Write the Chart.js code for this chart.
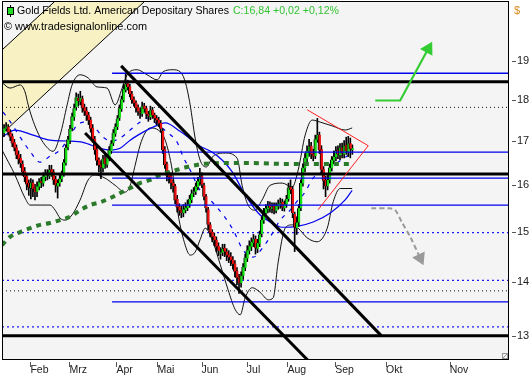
<!DOCTYPE html>
<html><head><meta charset="utf-8">
<script src="https://cdn.jsdelivr.net/npm/chart.js@4/dist/chart.umd.min.js"></script>
<style>html,body{margin:0;padding:0;background:#fff;overflow:hidden}#wrap{width:532px;height:380px;position:relative}</style>
</head><body>
<div id="wrap"><canvas id="c"></canvas></div>
<script>
// ---------- daily OHLC (bar index 0 = mid January) ----------
const opens=[17.20,17.30,17.35,17.22,17.12,16.98,16.86,16.70,16.62,16.48,
16.32,16.20,16.05,15.94,16.06,15.95,15.86,15.97,16.10,16.04,
16.18,16.27,16.20,16.36,16.30,16.14,15.98,16.04,16.14,16.26,
16.50,16.86,17.02,17.32,17.58,17.82,18.05,17.96,18.04,17.82,
17.74,17.64,17.52,17.32,17.06,16.82,16.58,16.46,16.38,16.62,
16.46,16.60,16.78,16.96,17.18,17.34,17.56,17.78,18.00,18.26,
18.42,18.34,18.16,18.02,17.94,17.82,17.70,17.66,17.86,17.80,
17.66,17.58,17.76,17.64,17.56,17.52,17.44,17.25,16.82,16.48,
16.25,16.20,16.06,15.98,15.70,15.54,15.47,15.40,15.46,15.50,
15.58,15.68,15.84,15.86,15.96,16.08,16.20,16.00,15.76,15.48,
15.16,15.00,14.92,14.84,14.72,14.56,14.58,14.68,14.60,14.54,
14.50,14.44,14.36,14.22,14.10,13.98,14.12,14.28,14.46,14.62,
14.70,14.78,14.86,14.66,14.76,14.96,15.24,15.40,15.48,15.58,
15.48,15.56,15.45,15.54,15.58,15.64,15.50,15.58,15.70,15.96,
15.92,15.38,15.08,15.20,15.50,16.04,16.38,16.60,16.76,16.90,
16.72,16.66,17.04,17.16,16.82,16.36,16.12,15.98,16.12,16.38,
16.56,16.64,16.80,16.68,16.86,16.70,16.92,16.76,16.96,16.80];
const highs=[17.40,17.45,17.40,17.28,17.18,17.05,16.92,16.78,16.70,16.55,
16.40,16.25,16.12,16.15,16.12,16.02,16.08,16.15,16.18,16.28,
16.35,16.35,16.45,16.45,16.35,16.20,16.12,16.22,16.32,16.58,
16.92,17.12,17.38,17.68,17.90,18.18,18.15,18.22,18.10,17.90,
17.82,17.70,17.58,17.40,17.12,16.90,16.62,16.55,16.68,16.70,
16.70,16.88,17.02,17.28,17.42,17.62,17.88,18.10,18.40,18.68,
18.50,18.40,18.22,18.08,17.98,17.88,17.80,17.95,17.92,17.85,
17.72,17.85,17.82,17.68,17.62,17.58,17.50,17.30,16.88,16.52,
16.30,16.28,16.12,16.02,15.78,15.60,15.55,15.58,15.62,15.68,
15.78,15.90,15.95,16.05,16.18,16.38,16.28,16.05,15.80,15.52,
15.20,15.05,14.98,14.90,14.78,14.68,14.75,14.75,14.66,14.62,
14.58,14.50,14.42,14.28,14.15,14.20,14.36,14.55,14.72,14.82,
14.88,14.95,14.92,14.85,15.02,15.32,15.50,15.58,15.65,15.64,
15.62,15.62,15.62,15.68,15.72,15.70,15.66,15.78,16.05,16.12,
15.98,15.42,15.32,15.58,16.12,16.48,16.72,16.90,17.05,16.98,
16.82,17.15,17.55,17.22,16.90,16.42,16.20,16.22,16.48,16.65,
16.78,16.88,16.90,16.95,16.96,17.02,17.10,17.12,17.08,16.92];
const lows=[17.12,17.25,17.15,17.02,16.88,16.78,16.60,16.48,16.40,16.22,
16.08,15.90,15.78,15.70,15.75,15.68,15.75,15.90,15.95,15.98,
16.10,16.12,16.15,16.20,16.02,15.85,15.72,15.98,16.08,16.20,
16.45,16.80,16.95,17.25,17.50,17.75,17.85,17.88,17.70,17.62,
17.50,17.40,17.22,16.98,16.70,16.45,16.30,16.15,16.30,16.38,
16.40,16.55,16.72,16.90,17.12,17.28,17.50,17.72,17.95,18.20,
18.25,18.08,17.92,17.85,17.70,17.62,17.55,17.60,17.70,17.55,
17.48,17.52,17.55,17.45,17.40,17.35,17.22,16.72,16.38,16.10,
16.05,15.92,15.85,15.60,15.42,15.35,15.30,15.32,15.40,15.45,
15.52,15.62,15.75,15.80,15.90,16.00,15.95,15.68,15.42,15.05,
14.90,14.80,14.72,14.60,14.52,14.45,14.52,14.50,14.42,14.38,
14.32,14.25,14.10,13.95,13.78,13.90,14.05,14.22,14.40,14.55,
14.62,14.70,14.55,14.58,14.70,14.90,15.18,15.35,15.40,15.42,
15.40,15.38,15.40,15.48,15.50,15.45,15.44,15.52,15.65,15.82,
15.30,14.60,14.95,15.12,15.45,15.98,16.30,16.52,16.65,16.60,
16.55,16.60,16.98,16.72,16.25,15.92,15.75,15.90,16.05,16.32,
16.48,16.55,16.60,16.58,16.62,16.62,16.70,16.65,16.62,16.70];
const closes=[17.31,17.35,17.22,17.10,16.95,16.85,16.68,16.58,16.50,16.30,
16.18,16.02,15.96,16.05,15.92,15.85,15.98,16.08,16.05,16.20,
16.26,16.22,16.34,16.28,16.12,16.00,16.05,16.15,16.25,16.52,
16.85,17.05,17.30,17.60,17.80,18.07,17.98,18.05,17.80,17.72,
17.62,17.50,17.30,17.05,16.80,16.55,16.45,16.40,16.60,16.48,
16.62,16.80,16.95,17.20,17.35,17.55,17.80,18.02,18.28,18.40,
18.32,18.15,18.00,17.92,17.80,17.72,17.68,17.85,17.78,17.65,
17.60,17.75,17.62,17.55,17.50,17.42,17.30,16.80,16.45,16.22,
16.18,16.05,15.98,15.67,15.52,15.45,15.40,15.48,15.52,15.58,
15.70,15.82,15.86,15.98,16.10,16.18,16.02,15.75,15.50,15.15,
14.98,14.90,14.83,14.70,14.62,14.58,14.66,14.60,14.52,14.48,
14.42,14.35,14.20,14.08,13.98,14.12,14.30,14.48,14.63,14.72,
14.80,14.85,14.68,14.78,14.95,15.25,15.42,15.50,15.56,15.50,
15.54,15.46,15.55,15.60,15.62,15.52,15.58,15.70,15.95,15.90,
15.40,15.10,15.20,15.50,16.05,16.40,16.62,16.78,16.88,16.70,
16.65,17.05,17.15,16.80,16.35,16.10,15.98,16.12,16.40,16.58,
16.65,16.78,16.70,16.85,16.72,16.90,16.78,16.95,16.82,16.84];

// ---------- axes ----------
const monthLabels=['Feb','Mrz','Apr','Mai','Jun','Jul','Aug','Sep','Okt','Nov'];
const monthPositions=[12.8,31.7,54.5,74.4,95.8,117.8,137.5,160.7,185.3,216.2];
const yTicks=[13,14,15,16,17,18,19];
const xMin=-1, xMax=245, yMin=12.57, yMax=20.64;

// ---------- indicators ----------
const bbUpperX=[-1,2.9,7.8,10.2,11.7,13.6,16.0,18.9,23.8,27.2,30.6,33.0,36.9,40.8,45.1,50.0,53.9,57.3,59.7,64.6,69.4,74.3,77.2,82.0,85.4,87.9,90.3,92.7,95.1,98.1,101.5,107.3,113.1,115.5,118.4,121.8,125.2,129.1,135.0,139.8,142.7,146.1,149.5,153.4,159.2,165.5,168.9];
const bbUpperY=[18.44,18.30,18.38,18.20,17.88,17.56,17.25,16.98,16.77,17.15,17.88,18.38,18.64,18.56,18.33,18.30,17.88,18.30,18.64,18.77,18.64,18.51,18.72,18.77,18.72,18.46,17.88,17.08,16.57,16.41,16.66,16.73,16.61,16.00,15.57,15.46,15.68,16.00,16.05,15.96,16.34,17.15,17.51,17.46,17.37,17.27,17.32];
const bbLowerX=[-1,5.3,10.2,12.6,17.5,22.3,24.8,27.2,29.6,33.0,36.9,40.8,44.2,49.0,53.9,58.7,61.2,63.6,66.0,68.4,70.9,74.8,78.2,81.6,84.5,87.9,90.3,92.7,95.1,97.6,101.0,104.9,108.7,112.1,114.6,117.0,120.4,124.3,128.2,130.6,133.0,136.4,139.8,142.7,147.1,151.9,156.8,159.7,163.1,168.9];
const bbLowerY=[16.80,16.23,15.72,15.57,15.57,15.57,15.46,15.29,15.25,15.36,15.68,16.12,16.23,16.16,16.00,15.85,16.00,16.45,16.91,17.20,17.32,17.27,17.03,16.34,15.36,14.73,14.53,14.59,14.84,15.08,14.84,14.34,13.85,13.48,13.38,13.70,13.89,13.80,13.66,13.70,14.39,15.08,15.15,15.08,14.88,14.80,15.08,15.64,15.93,15.93];
const ma20X=[-0.5,2.9,7.8,12.6,17.5,22.3,27.2,32.0,35.9,40.3,44.2,48.1,52.4,56.3,61.2,66.0,69.9,74.3,79.1,84.0,86.9,90.3,95.1,100.0,106.3,111.2,116.0,120.9,125.7,129.1,134.0,138.8,142.7,146.1,149.5,153.4,158.3,164.1,168.9];
const ma20Y=[17.70,17.48,17.10,16.77,16.52,16.66,16.80,17.13,17.41,17.46,17.32,17.10,17.01,17.08,17.27,17.46,17.56,17.41,17.22,16.98,16.64,16.34,15.89,15.68,15.36,15.04,14.63,14.49,14.69,14.90,15.25,15.46,15.68,15.85,16.14,16.28,16.39,16.59,16.73];
const ma50X=[-1,5.3,14.1,22.3,30.6,38.3,46.6,51.5,56.3,61.2,67.5,72.3,78.2,85.4,95.1,101.0,105.8,110.7,117.0,123.3,129.1,135.0,142.2,150.0,158.3,165.5,168.9];
const ma50Y=[17.10,17.27,17.15,17.03,17.01,16.98,16.84,16.80,16.84,17.03,17.22,17.34,17.44,17.24,16.89,16.75,16.57,16.30,15.79,15.40,15.21,15.10,15.12,15.21,15.40,15.68,15.89];
const ma200X=[-1,2.9,7.8,12.6,17.5,22.3,27.2,32.0,36.9,41.7,46.6,51.5,56.3,61.2,66.0,70.9,75.7,80.6,88.8,96.6,104.9,120.9,137.4,153.4,168.9];
const ma200Y=[14.73,14.90,15.00,15.08,15.15,15.19,15.25,15.32,15.46,15.57,15.63,15.72,15.83,15.94,16.05,16.12,16.23,16.30,16.41,16.48,16.50,16.50,16.48,16.48,16.48];

// ---------- drawing tools ----------
const blackLevels=[18.46,16.25,13.00];
const blueLevels=[18.68,16.75,16.16,15.57,13.62];
const blueLevelStart=52.4;
const dottedBlackLevels=[17.82,13.83];
const dottedBlueLevels=[14.99,14.03,13.16];
const channelUpperX=[56.8,183.0], channelUpperY=[18.87,13.00];
const channelLowerX=[39.3,147.3], channelLowerY=[17.20,12.57];
const triangleX=[147.1,176.7,152.4], triangleY=[17.76,16.90,15.47];
const greenArrowX=[180.1,192.2,205.8], greenArrowY=[17.99,17.99,19.32];
const grayArrowX=[178.2,186.9,189.8,193.2,197.1,201.9], grayArrowY=[15.50,15.50,15.46,15.19,14.90,14.47];
const yellowX=[-1,24.8,68.4,-1], yellowY=[19.29,20.64,20.64,17.18];

const titleText='Gold Fields Ltd. American Depositary Shares';
const quoteText='C:16,84 +0,02 +0,12%';
const copyText='\u00A9 www.tradesignalonline.com';

// ---------- build datasets ----------
const pts=(xs,ys)=>xs.map((x,i)=>({x:x,y:ys[i]}));
const line=(data,color,width,dash,order,extra)=>Object.assign({type:'line',data:data,borderColor:color,borderWidth:width,borderDash:dash||[],pointRadius:0,fill:false,order:order,tension:0},extra||{});
const datasets=[];

datasets.push(line(pts(yellowX,yellowY),'#000',1,[],20,{fill:'shape',backgroundColor:'#f7f1c4'}));
dottedBlackLevels.forEach(v=>datasets.push(line([{x:xMin,y:v},{x:xMax,y:v}],'#111',1,[1,3],12)));
dottedBlueLevels.forEach(v=>datasets.push(line([{x:xMin,y:v},{x:xMax,y:v}],'#1a1aff',1.3,[2,3],12)));
datasets.push(line(pts(bbUpperX,bbUpperY),'#111',1,[],10,{cubicInterpolationMode:'monotone'}));
datasets.push(line(pts(bbLowerX,bbLowerY),'#111',1,[],10,{cubicInterpolationMode:'monotone'}));
datasets.push(line(pts(ma20X,ma20Y),'#0000ee',1.2,[4,6],9,{cubicInterpolationMode:'monotone'}));
datasets.push(line(pts(ma50X,ma50Y),'#0000ee',1.2,[],9,{cubicInterpolationMode:'monotone'}));

datasets.push({type:'bar',data:closes.map((c,i)=>({x:i,y:[lows[i],highs[i]]})),backgroundColor:'#000',barThickness:1,grouped:false,order:6});
datasets.push({type:'bar',data:closes.map((c,i)=>({x:i,y:[opens[i],c]})),backgroundColor:closes.map((c,i)=>c>=opens[i]?'#14e014':'#ea1010'),borderColor:'#000',borderWidth:{left:1,right:0,top:0,bottom:0},borderSkipped:false,barThickness:3,grouped:false,order:5,minBarLength:1});

datasets.push(line(pts(ma200X,ma200Y),'#2b7a2b',4,[5,5],4,{cubicInterpolationMode:'monotone'}));
blueLevels.forEach(v=>datasets.push(line([{x:blueLevelStart,y:v},{x:xMax,y:v}],'#0000ee',1.3,[],3)));
blackLevels.forEach(v=>datasets.push(line([{x:xMin,y:v},{x:xMax,y:v}],'#000',3,[],2)));
datasets.push(line(pts(channelUpperX,channelUpperY),'#000',3,[],2));
datasets.push(line(pts(channelLowerX,channelLowerY),'#000',3,[],2));
datasets.push(line(pts(triangleX,triangleY),'#ff2020',1,[],1));
datasets.push(line(pts(greenArrowX,greenArrowY),'#33cc33',2.2,[],0,{pointRadius:[0,0,6],pointStyle:'triangle',pointRotation:29,pointBackgroundColor:'#33cc33',pointBorderColor:'#33cc33'}));
datasets.push(line(pts(grayArrowX,grayArrowY),'#9a9a9a',2,[5,3],0,{tension:0.3,pointRadius:[0,0,0,0,0,6],pointStyle:'triangle',pointRotation:155,pointBackgroundColor:'#9a9a9a',pointBorderColor:'#9a9a9a'}));

const deco={
  id:'deco',
  beforeDraw(chart){
    const {ctx,chartArea:a}=chart;
    ctx.save();
    ctx.fillStyle='#fff';ctx.fillRect(0,0,chart.width,chart.height);
    ctx.fillStyle='#f4f4f4';ctx.fillRect(a.left,a.top,a.right-a.left,a.bottom-a.top);
    ctx.restore();
  },
  afterDraw(chart){
    const {ctx,chartArea:a,scales}=chart;
    ctx.save();
    ctx.strokeStyle='#000';ctx.lineWidth=1;
    ctx.strokeRect(a.left+0.5,a.top+0.5,a.right-a.left-1,a.bottom-a.top-1);
    ctx.strokeStyle='#555';
    monthPositions.forEach(p=>{const px=Math.round(scales.x.getPixelForValue(p))+0.5;ctx.beginPath();ctx.moveTo(px,a.bottom+2);ctx.lineTo(px,a.bottom+7);ctx.stroke();});
    yTicks.forEach(v=>{const py=Math.round(scales.y.getPixelForValue(v))+0.5;ctx.beginPath();ctx.moveTo(a.right+3,py);ctx.lineTo(a.right+7,py);ctx.stroke();});
    // legend icon
    ctx.strokeStyle='#000';ctx.beginPath();ctx.moveTo(10.5,5);ctx.lineTo(10.5,17);ctx.stroke();
    ctx.fillStyle='#22dd22';ctx.fillRect(8,8,5,6);ctx.strokeRect(7.5,7.5,6,7);
    // title
    ctx.textBaseline='alphabetic';ctx.textAlign='left';
    ctx.font='10.6px "Liberation Sans"';ctx.fillStyle='#000';
    ctx.fillText(titleText,17,14);
    const w=ctx.measureText(titleText).width;
    ctx.fillStyle='#33c433';ctx.fillText(quoteText,17+w+4,14);
    ctx.font='10.9px "Liberation Sans"';ctx.fillStyle='#000';
    ctx.fillText(copyText,4,30);
    // currency
    ctx.font='11px "Liberation Sans"';ctx.fillStyle='#d98a1c';
    ctx.fillText('$',514,14);
    // resize grip
    ctx.strokeStyle='#999';ctx.strokeRect(502.5,353.5,5,5);
    ctx.beginPath();ctx.moveTo(503,358);ctx.lineTo(507,354);ctx.stroke();
    ctx.restore();
  }
};

Chart.defaults.font.family='"Liberation Sans", Arial, sans-serif';
new Chart(document.getElementById('c'),{
  type:'bar',
  data:{datasets:datasets},
  options:{
    responsive:true,maintainAspectRatio:false,animation:false,devicePixelRatio:1,
    layout:{autoPadding:false,padding:{left:2,top:1,right:0,bottom:0}},
    plugins:{legend:{display:false},tooltip:{enabled:false}},
    scales:{
      x:{type:'linear',min:xMin,max:xMax,offset:false,
        grid:{display:false,drawTicks:false,offset:false},border:{display:false},
        afterBuildTicks:s=>{s.ticks=monthPositions.map(v=>({value:v}));},
        afterFit:s=>{s.height=20;s.paddingLeft=0;s.paddingRight=0;},
        ticks:{autoSkip:false,maxRotation:0,minRotation:0,align:'start',padding:4,color:'#222',font:{size:10.5},callback:(v,i)=>monthLabels[i]}},
      y:{type:'logarithmic',position:'right',min:yMin,max:yMax,
        grid:{display:false,drawTicks:false},border:{display:false},
        afterBuildTicks:s=>{s.ticks=yTicks.map(v=>({value:v}));},
        afterFit:s=>{s.width=23;s.paddingTop=0;s.paddingBottom=0;},
        ticks:{padding:8,color:'#222',font:{size:11},callback:v=>String(v)}}
    }
  },
  plugins:[deco]
});
</script>
</body></html>
